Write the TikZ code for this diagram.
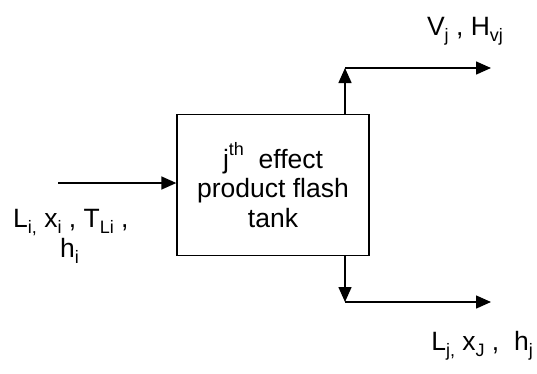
\documentclass[tikz,border=0pt]{standalone}
\usepackage{fontspec}
\setmainfont{Liberation Sans}
\usetikzlibrary{arrows.meta}
\newcommand{\sbs}[1]{\raisebox{-0.45ex}{\fontsize{18}{18}\selectfont #1}}
\newcommand{\sps}[1]{\raisebox{0.9ex}{\fontsize{18}{18}\selectfont #1}}
\begin{document}
\begin{tikzpicture}[x=1pt,y=-1pt,
  flow/.style={line width=1.5pt,-{Triangle[length=15pt,width=13pt]}},
  lbl/.style={font=\fontsize{26.5}{29.5}\selectfont,inner sep=0pt},
  tankbox/.style={draw,line width=1.3pt,minimum width=192pt,minimum height=141pt,inner sep=0pt,align=center,
    font=\fontsize{26.5}{29.5}\selectfont}]
\useasboundingbox (0,0) rectangle (537,373);
\node[tankbox] (tank) at (273,185) {j\sps{th}\ \ effect\\product flash\\tank};
\coordinate (in) at (58,183);
\coordinate (top) at (345,68);
\coordinate (topend) at (491,68);
\coordinate (bot) at (345,302);
\coordinate (botend) at (491,302);
\draw[flow] (in) -- (in -| tank.west);
\draw[flow] (tank.north -| top) -- (top);
\draw[flow] (top) -- (topend);
\draw[flow] (tank.south -| bot) -- (bot);
\draw[flow] (bot) -- (botend);
\node[lbl,anchor=base] (vlab) at (465,35) {V\sbs{j} , H\sbs{vj}};
\node[lbl,anchor=base east] (llab) at (533,350) {L\sbs{j,} x\sbs{J} ,\ \ h\sbs{j}};
\node[lbl,anchor=base west] (inlab) at (13,227) {L\sbs{i,} x\sbs{i} , T\sbs{Li} ,};
\node[lbl,anchor=base west] (hlab) at (60,257) {h\sbs{i}};
\end{tikzpicture}
\end{document}
